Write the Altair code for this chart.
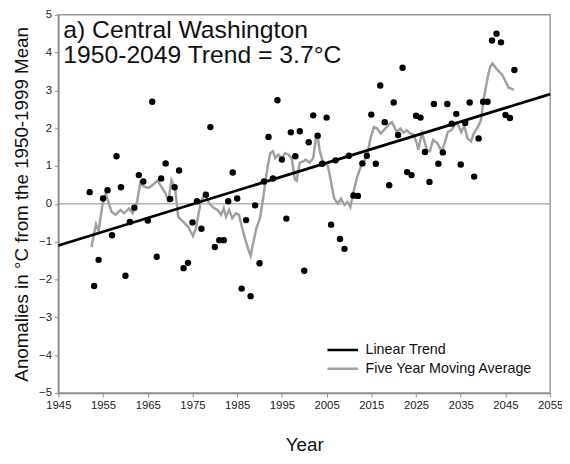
import altair as alt
import pandas as pd

# ---------------- data ----------------
years = list(range(1952, 2048))
anomalies = [
    0.31, -2.17, -1.48, 0.14, 0.36, -0.83, 1.26, 0.44, -1.90, -0.48,   # 1952-1961
    -0.10, 0.76, 0.59, -0.44, 2.70, -1.40, 0.67, 1.07, 0.13, 0.44,     # 1962-1971
    0.88, -1.70, -1.56, -0.49, 0.07, -0.66, 0.24, 2.03, -1.14, -0.96,  # 1972-1981
    -0.96, 0.07, 0.83, 0.14, -2.24, -0.43, -2.44, -0.04, -1.57, 0.59,  # 1982-1991
    1.77, 0.67, 2.74, 1.17, -0.39, 1.89, 1.26, 1.92, -1.77, 1.63,      # 1992-2001
    2.34, 1.80, 1.06, 2.28, -0.55, 1.15, -0.93, -1.19, 1.27, 0.22,     # 2002-2011
    0.21, 1.07, 1.27, 2.36, 1.06, 3.13, 2.16, 0.49, 2.68, 1.82,        # 2012-2021
    3.60, 0.84, 0.76, 2.33, 2.28, 1.37, 0.58, 2.64, 1.06, 1.36,        # 2022-2031
    2.64, 2.12, 2.38, 1.04, 2.14, 2.68, 0.72, 1.73, 2.70, 2.70,        # 2032-2041
    4.32, 4.50, 4.27, 2.35, 2.27, 3.54,                                # 2042-2047
]

ma_years = [
    1952.4, 1953.4, 1954.0, 1954.9, 1955.6, 1956.9, 1957.8, 1958.9, 1959.7, 1960.8,
    1961.6, 1962.6, 1963.3, 1964.1, 1965.2, 1966.3, 1967.2, 1968.1, 1969.0, 1969.6,
    1970.3, 1971.1, 1971.8, 1972.9, 1974.0, 1975.1, 1975.8, 1976.8, 1977.7, 1978.8,
    1979.9, 1980.6, 1981.4, 1982.0, 1982.5, 1983.2, 1983.9, 1984.7, 1985.4, 1986.1,
    1986.9, 1987.6, 1988.0, 1988.6, 1989.3, 1990.1, 1990.9, 1991.7, 1992.4, 1993.0,
    1993.5, 1994.2, 1995.0, 1995.7, 1996.5, 1997.2, 1997.9, 1998.3, 1999.0, 1999.9,
    2000.3, 2001.2, 2002.0, 2002.7, 2003.0, 2003.4, 2004.0, 2004.5, 2005.3, 2006.0,
    2006.7, 2007.5, 2008.2, 2009.0, 2009.7, 2010.3, 2011.0, 2011.8, 2012.7, 2013.4,
    2014.1, 2014.8, 2015.6, 2016.3, 2017.1, 2018.2, 2019.1, 2019.6, 2020.7, 2021.5,
    2022.2, 2022.9, 2023.7, 2024.4, 2025.2, 2025.5, 2026.3, 2026.8, 2027.4, 2028.1,
    2028.8, 2029.8, 2030.7, 2031.4, 2032.1, 2032.9, 2033.6, 2034.3, 2035.1, 2035.8,
    2036.5, 2037.3, 2037.9, 2038.8, 2039.5, 2040.2, 2041.0, 2041.6, 2042.1, 2043.2,
    2044.3, 2045.0, 2045.7, 2046.9,
]
ma_values = [
    -1.15, -0.54, -0.72, 0.00, 0.27, -0.21, -0.29, -0.16, -0.25, -0.12,
    -0.25, 0.05, 0.55, 0.46, 0.42, 0.52, 0.62, 0.44, 0.27, 0.05,
    0.63, 0.42, -0.34, -0.47, -0.60, -0.85, -0.64, 0.03, 0.27, 0.00,
    -0.12, -0.16, -0.29, -0.12, -0.34, -0.16, -0.38, -0.25, -0.29, -0.64,
    -0.98, -1.24, -1.37, -1.03, -0.64, -0.38, 0.22, 0.91, 1.34, 1.39,
    1.21, 1.30, 1.21, 1.34, 1.30, 1.20, 0.65, 0.61, 1.09, 1.13,
    1.17, 1.09, 1.21, 1.82, 1.80, 1.43, 1.17, 1.09, 1.00, 0.57,
    0.14, 0.01, 0.14, -0.03, 0.05, -0.08, 0.31, 0.70, 1.00, 1.13,
    1.30, 1.73, 2.03, 1.99, 1.86, 2.00, 2.12, 2.16, 1.90, 1.99,
    1.88, 1.95, 1.86, 1.84, 1.60, 1.43, 1.86, 1.69, 1.43, 1.39,
    1.69, 1.60, 1.39, 1.60, 1.90, 1.95, 2.07, 2.12, 1.90, 2.07,
    1.73, 1.65, 1.86, 2.03, 2.20, 2.81, 3.33, 3.63, 3.71, 3.54,
    3.41, 3.24, 3.07, 3.02,
]

trend_years = [1945, 2055]
trend_values = [-1.1, 2.9]

x_ticks = list(range(1945, 2056, 10))
y_ticks = list(range(-5, 6))
series_names = ["Linear Trend", "Five Year Moving Average"]
series_colors = ["#000000", "#a0a0a0"]
title_lines = ["a) Central Washington", "1950-2049 Trend = 3.7°C"]
x_title = "Year"
y_title = "Anomalies in °C from the 1950-1999 Mean"

# ---------------- tables ----------------
pts = pd.DataFrame({"year": years, "value": anomalies})
ma = pd.DataFrame({"year": ma_years, "value": ma_values, "series": series_names[1]})
tr = pd.DataFrame({"year": trend_years, "value": trend_values, "series": series_names[0]})
zero = pd.DataFrame({"value": [0]})

FONT = "Liberation Sans"
W, H = 498, 383

xscale = alt.Scale(domain=[1945, 2055], nice=False, zero=False)
yscale = alt.Scale(domain=[-5, 5], nice=False, zero=False)

x_axis = alt.Axis(values=x_ticks, format="d", title=x_title,
                  labelOverlap=False, labelFlush=False,
                  titleY=52, titleBaseline="middle")
y_axis = alt.Axis(values=y_ticks, format="d", title=y_title,
                  labelOverlap=False, labelFlush=False, tickCount=11,
                  titleX=-37, titleY=H / 2, titleAngle=270,
                  titleAlign="center", titleBaseline="middle")

x_enc = alt.X("year:Q", scale=xscale, axis=x_axis)
y_enc = alt.Y("value:Q", scale=yscale, axis=y_axis)

color_enc = alt.Color(
    "series:N",
    scale=alt.Scale(domain=series_names, range=series_colors),
    legend=alt.Legend(
        title=None, orient="none", legendX=271, legendY=330,
        symbolType="stroke", symbolSize=961, symbolStrokeWidth=2.5,
        clipHeight=19, rowPadding=0, padding=0,
        labelFont=FONT, labelFontSize=14.5, labelColor="#111",
        labelOffset=6, labelLimit=300,
    ),
)

zero_rule = alt.Chart(zero).mark_rule(color="#8c8c8c", strokeWidth=1).encode(
    y=y_enc
)

ma_line = alt.Chart(ma).mark_line(strokeWidth=2.5).encode(
    x=x_enc, y=y_enc, color=color_enc
)
trend_line = alt.Chart(tr).mark_line(strokeWidth=2.8).encode(
    x=x_enc, y=y_enc, color=color_enc
)
points = alt.Chart(pts).mark_circle(size=42, color="black", opacity=1).encode(
    x=x_enc, y=y_enc
)

t1 = alt.Chart(pd.DataFrame({"t": [title_lines[0]]})).mark_text(
    align="left", baseline="alphabetic", font=FONT, fontSize=25, color="#111"
).encode(text="t:N", x=alt.value(5), y=alt.value(24))
t2 = alt.Chart(pd.DataFrame({"t": [title_lines[1]]})).mark_text(
    align="left", baseline="alphabetic", font=FONT, fontSize=25, color="#111"
).encode(text="t:N", x=alt.value(5), y=alt.value(49))

chart = (
    alt.layer(zero_rule, ma_line, trend_line, points, t1, t2)
    .properties(
        width=W, height=H,
        autosize=alt.AutoSizeParams(type="none"),
        padding={"left": 51, "top": 4, "right": 12, "bottom": 61},
        background="white",
    )
    .configure_view(stroke="#9a9a9a", strokeWidth=1.5)
    .configure_axis(
        grid=False,
        domainColor="#8c8c8c", domainWidth=1.5,
        tickColor="#8c8c8c", tickSize=4, tickWidth=1,
        labelFont=FONT, labelFontSize=11.5, labelColor="#222", labelPadding=3,
        labelOverlap=False,
        titleFont=FONT, titleFontSize=19, titleFontWeight="normal", titleColor="#111",
    )
)

chart.save("out.html", embed_options={"renderer": "svg", "actions": False})
